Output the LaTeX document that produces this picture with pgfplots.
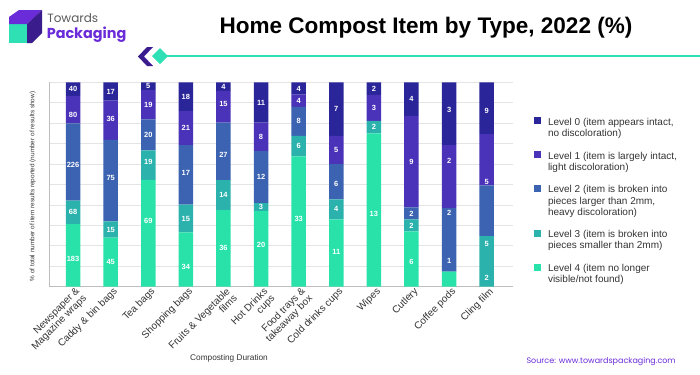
\documentclass[border=0pt]{standalone}
\usepackage{fontspec}
\setmainfont{Liberation Sans}
\newfontfamily\pop{Poppins}
\usepackage{pgfplots}
\usepackage{pgfplotstable}
\pgfplotsset{compat=1.18}
\definecolor{lzero}{HTML}{2A2699}
\definecolor{lone}{HTML}{4A33B8}
\definecolor{ltwo}{HTML}{3B63B1}
\definecolor{lthree}{HTML}{2CB2AD}
\definecolor{lfour}{HTML}{28E2AA}
\definecolor{txt}{HTML}{333333}
\definecolor{gridc}{HTML}{E4E4E4}
\definecolor{brandp}{HTML}{6A2BD8}
\definecolor{brandd}{HTML}{3A1C8C}
\definecolor{brandt}{HTML}{2EE0B4}

\pgfplotstableread{
x y lab d
0 30.65 183 -1.9
1 23.94 45 0
2 52.27 69 6
3 26.6 34 -3.7
4 37.5 36 0
5 37.0 20 1.8
6 63.8 33 1.3
7 32.9 11 0.7
8 75.0 13 -2
9 27.0 6 -1.2
10 7.4 {} 0
11 0.01 2 4.3
}\levelfour
\pgfplotstableread{
x y lab d
0 11.39 68 0
1 7.98 15 0
2 14.39 19 1.8
3 13.5 15 0
4 14.58 14 0
5 3.9 3 0
6 10.0 6 0
7 9.8 4 0
8 6.1 2 0
9 5.9 2 0
10 0.01 1 5.4
11 24.69 5 8.55
}\levelthree
\pgfplotstableread{
x y lab d
0 37.86 226 -1.4
1 39.89 75 1.2
2 15.15 20 0
3 29.2 17 1
4 28.13 27 -1.8
5 25.4 12 0
6 14.2 8 0
7 17.2 6 -0.9
8 0 {} 0
9 5.9 2 0
10 30.99 2 13.1
11 24.9 {} 0
}\leveltwo
\pgfplotstableread{
x y lab d
0 13.40 80 -2.8
1 19.15 36 0.7
2 14.39 19 0
3 16.6 21 0
4 15.63 15 1.2
5 13.9 8 0
6 5.9 4 0
7 13.9 5 0
8 12.7 3 0
9 44.7 9 0
10 30.8 2 7.7
11 25.0 5 -10.9
}\levelone
\pgfplotstableread{
x y lab d
0 6.70 40 0
1 9.04 17 0
2 3.79 5 0
3 14.1 18 0
4 4.17 4 0
5 19.8 11 0
6 6.1 4 0
7 26.2 7 0
8 6.2 2 0
9 16.5 4 0
10 30.8 3 2
11 25.4 9 -1.4
}\levelzero

\begin{document}
\begin{tikzpicture}
\path[use as bounding box] (0,0) rectangle (525pt,-281.25pt);
\begin{scope}[x=0.75pt,y=-0.75pt]
  % logo
  \fill[brandt] (9,24) rectangle (27,43);
  \fill[brandp] (9,24) -- (9,17) -- (19,10) -- (42,10) -- (27,24) -- cycle;
  \fill[brandd] (27,24) -- (42,10) -- (42,33) -- (32,43) -- (27,43) -- cycle;
  \node[anchor=base west, inner sep=0pt, text=black!65] at (47,22.5) {\pop\fontsize{9}{10}\selectfont Towards};
  \node[anchor=base west, inner sep=0pt, text=brandp] at (46.5,38.5) {\pop\bfseries\fontsize{10.8}{12}\selectfont Packaging};
  % title
  \node[text=black] at (426,28) {\bfseries\fontsize{16.9}{19}\selectfont Home Compost Item by Type, 2022 (\%)};
  % decor line
  \draw[brandt, line width=1.3pt] (165,56) -- (700,56);
  \fill[brandd] (147,47) -- (153,47) -- (144,56.5) -- (153,66) -- (147,66) -- (138,56.5) -- cycle;
  \fill[brandp] (150,50) -- (153,47) -- (144,56.5) -- (153,66) -- (150,63) -- (144,56.5) -- cycle;
  \fill[brandt] (160,48) -- (168,56) -- (160,64) -- (152,56) -- cycle;
  % source
  \node[anchor=east, text=brandp, inner sep=0pt] at (676,362) {\pop\fontsize{6}{7}\selectfont Source: www.towardspackaging.com};
\end{scope}

\begin{axis}[
  at={(36.75pt,-215.0pt)}, anchor=south west,
  scale only axis, width=348pt, height=153.3pt,
  ybar stacked, bar width=0.385,
  xmin=-0.64, xmax=11.70, ymin=0, ymax=100,
  axis lines=left,
  axis line style={-, draw=gridc!80!black!90},
  ymajorgrids, grid style={gridc, line width=0.6pt},
  ytick={0,10,...,100}, yticklabels={},
  xtick={0,...,11},
  major tick length=0pt,
  xticklabels={{Newspaper \&\\Magazine wraps},{Caddy \& bin bags},{Tea bags},{Shopping bags},{Fruits \& Vegetable\\films},{Hot Drinks\\cups},{Food trays \&\\takeaway box},{Cold drinks cups},{Wipes},{Cutlery},{Coffee pods},{Cling film}},
  xticklabel style={rotate=45, anchor=north east, align=right, text=txt, font=\fontsize{7.5}{7.6}\selectfont, inner sep=1pt, xshift=2pt},
  ylabel={\% of total number of item results reported (number of results show)},
  ylabel style={at={(axis description cs:-0.035,0.49)}, anchor=center, font=\fontsize{4.8}{5}\selectfont, text=txt},
  xlabel={Composting Duration},
  xlabel style={at={(axis description cs:0.388,0)}, anchor=center, yshift=-54pt, font=\fontsize{6.2}{7}\selectfont, text=txt},
  clip=false,
  point meta=explicit symbolic,
  nodes near coords,
  visualization depends on={\thisrow{d} \as \dd},
  every node near coord/.append style={font=\bfseries\fontsize{5.6}{6}\selectfont, text=white, anchor=center, inner sep=0pt, shift={(axis direction cs:0,\dd)}},
  legend style={at={(axis description cs:1.045,0.835)}, anchor=north west, draw=none, fill=none, font=\fontsize{7.5}{8.3}\selectfont, text=txt, row sep=8pt, column sep=4pt, inner sep=0pt, nodes={align=left, inner sep=1pt}, cells={anchor=north west}},
  reverse legend,
  legend image code/.code={\fill[#1] (0pt,-5.8pt) rectangle (5.4pt,-0.4pt);},
]
\addplot[fill=lfour, draw=none] table[x=x, y=y, meta=lab] {\levelfour};
\addplot[fill=lthree, draw=none] table[x=x, y=y, meta=lab] {\levelthree};
\addplot[fill=ltwo, draw=none] table[x=x, y=y, meta=lab] {\leveltwo};
\addplot[fill=lone, draw=none] table[x=x, y=y, meta=lab] {\levelone};
\addplot[fill=lzero, draw=none] table[x=x, y=y, meta=lab] {\levelzero};
\legend{{Level 4 (item no longer\\visible/not found)},{Level 3 (item is broken into\\pieces smaller than 2mm)},{Level 2 (item is broken into\\pieces larger than 2mm,\\heavy discoloration)},{Level 1 (item is largely intact,\\light discoloration)},{Level 0 (item appears intact,\\no discoloration)}}
\end{axis}
\end{tikzpicture}
\end{document}
